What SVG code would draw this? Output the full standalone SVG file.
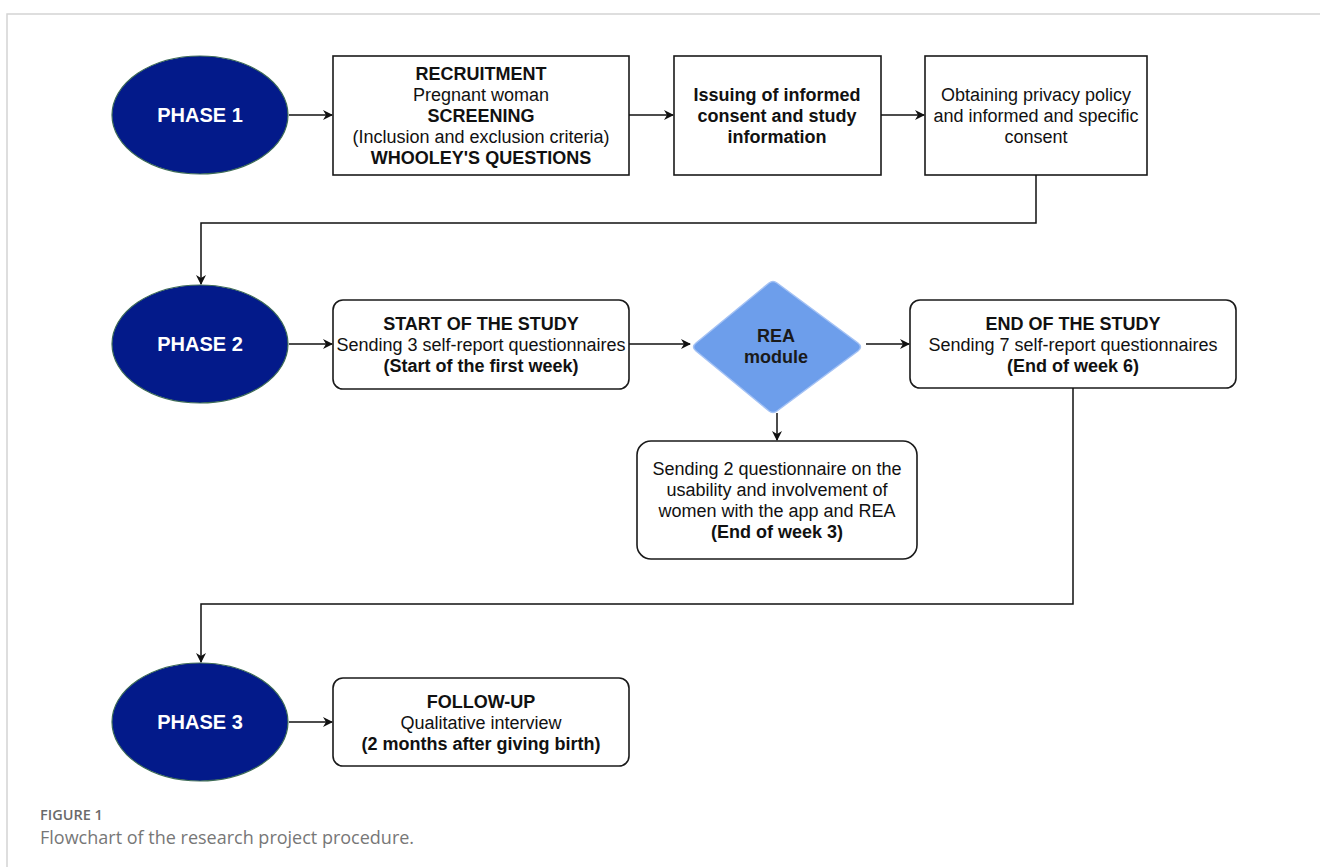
<svg xmlns="http://www.w3.org/2000/svg" width="1320" height="867" viewBox="0 0 1320 867">
<style>
.box{fill:#fff;stroke:#1a1a1a;stroke-width:1.6}
.ph{fill:#031a8a;stroke:#3d6b57;stroke-width:1.2}
.pt{font-family:"Liberation Sans",Arial,sans-serif;font-size:20px;font-weight:bold;fill:#fff;text-anchor:middle}
.t{font-family:"Liberation Sans",Arial,sans-serif;font-size:18px;fill:#111;text-anchor:middle}
.b{font-weight:bold}
.c{fill:none;stroke:#111;stroke-width:1.5}
.cap{font-family:"Open Sans","Noto Sans",sans-serif;fill:#777}
</style>
<defs>
<marker id="ah" viewBox="0 0 10 10" refX="9" refY="5" markerWidth="10" markerHeight="10" markerUnits="userSpaceOnUse" orient="auto">
<path d="M0,0 L10,5 L0,10 L3,5 Z" fill="#111"/>
</marker>
</defs>
<rect width="1320" height="867" fill="#fff"/>
<path d="M7,867 V14 H1320" fill="none" stroke="#d4d4d4" stroke-width="1.5"/>

<g id="phase1"><ellipse class="ph" cx="200" cy="115" rx="88" ry="59"/><text class="pt" x="200" y="122">PHASE 1</text></g>
<g id="recruitment"><rect class="box" x="333" y="56" width="296" height="119"/>
<text class="t" x="481" y="80"><tspan class="b">RECRUITMENT</tspan><tspan x="481" dy="21">Pregnant woman</tspan><tspan x="481" dy="21" class="b">SCREENING</tspan><tspan x="481" dy="21">(Inclusion and exclusion criteria)</tspan><tspan x="481" dy="21" class="b">WHOOLEY'S QUESTIONS</tspan></text></g>
<g id="issuing"><rect class="box" x="674" y="56" width="207" height="119"/>
<text class="t b" x="777" y="101">Issuing of informed<tspan x="777" dy="21">consent and study</tspan><tspan x="777" dy="21">information</tspan></text></g>
<g id="obtaining"><rect class="box" x="925" y="56" width="222" height="119"/>
<text class="t" x="1036" y="101">Obtaining privacy policy<tspan x="1036" dy="21">and informed and specific</tspan><tspan x="1036" dy="21">consent</tspan></text></g>

<g id="phase2"><ellipse class="ph" cx="200" cy="344" rx="88" ry="59"/><text class="pt" x="200" y="351">PHASE 2</text></g>
<g id="start"><rect class="box" x="333" y="300" width="296" height="89" rx="10"/>
<text class="t" x="481" y="330"><tspan class="b">START OF THE STUDY</tspan><tspan x="481" dy="21">Sending 3 self-report questionnaires</tspan><tspan x="481" dy="21" class="b">(Start of the first week)</tspan></text></g>
<g id="rea"><path d="M777,283 L858,343 Q863,347 858,351 L777,411 Q773,414 769,411 L696,351 Q691,347 696,343 L769,283 Q773,280 777,283 Z" fill="#6d9eeb" stroke="#a4c2f4" stroke-width="1.5"/>
<text class="t b" x="776" y="342" style="fill:#1a1a1a">REA<tspan x="776" dy="21">module</tspan></text></g>
<g id="end"><rect class="box" x="910" y="300" width="326" height="88" rx="10"/>
<text class="t" x="1073" y="330"><tspan class="b">END OF THE STUDY</tspan><tspan x="1073" dy="21">Sending 7 self-report questionnaires</tspan><tspan x="1073" dy="21" class="b">(End of week 6)</tspan></text></g>
<g id="usability"><rect class="box" x="637" y="441" width="280" height="118" rx="14"/>
<text class="t" x="777" y="475">Sending 2 questionnaire on the<tspan x="777" dy="21">usability and involvement of</tspan><tspan x="777" dy="21">women with the app and REA</tspan><tspan x="777" dy="21" class="b">(End of week 3)</tspan></text></g>

<g id="phase3"><ellipse class="ph" cx="200" cy="722" rx="88" ry="59"/><text class="pt" x="200" y="729">PHASE 3</text></g>
<g id="followup"><rect class="box" x="333" y="678" width="296" height="88" rx="10"/>
<text class="t" x="481" y="708"><tspan class="b">FOLLOW-UP</tspan><tspan x="481" dy="21">Qualitative interview</tspan><tspan x="481" dy="21" class="b">(2 months after giving birth)</tspan></text></g>

<g id="connectors">
<path class="c" d="M289,115 H332" marker-end="url(#ah)"/>
<path class="c" d="M629,115 H673" marker-end="url(#ah)"/>
<path class="c" d="M881,115 H924" marker-end="url(#ah)"/>
<path class="c" d="M1036,175 V223 H201 V284" marker-end="url(#ah)"/>
<path class="c" d="M289,344 H332" marker-end="url(#ah)"/>
<path class="c" d="M629,344 H690" marker-end="url(#ah)"/>
<path class="c" d="M866,344 H909" marker-end="url(#ah)"/>
<path class="c" d="M777,413 V440" marker-end="url(#ah)"/>
<path class="c" d="M1073,388 V604 H201 V662" marker-end="url(#ah)"/>
<path class="c" d="M289,722 H332" marker-end="url(#ah)"/>
</g>

<text class="cap" x="40" y="820" font-size="14.5" font-weight="600" style="fill:#6a6a6a">FIGURE 1</text>
<text class="cap" x="40" y="844" font-size="18">Flowchart of the research project procedure.</text>
</svg>
